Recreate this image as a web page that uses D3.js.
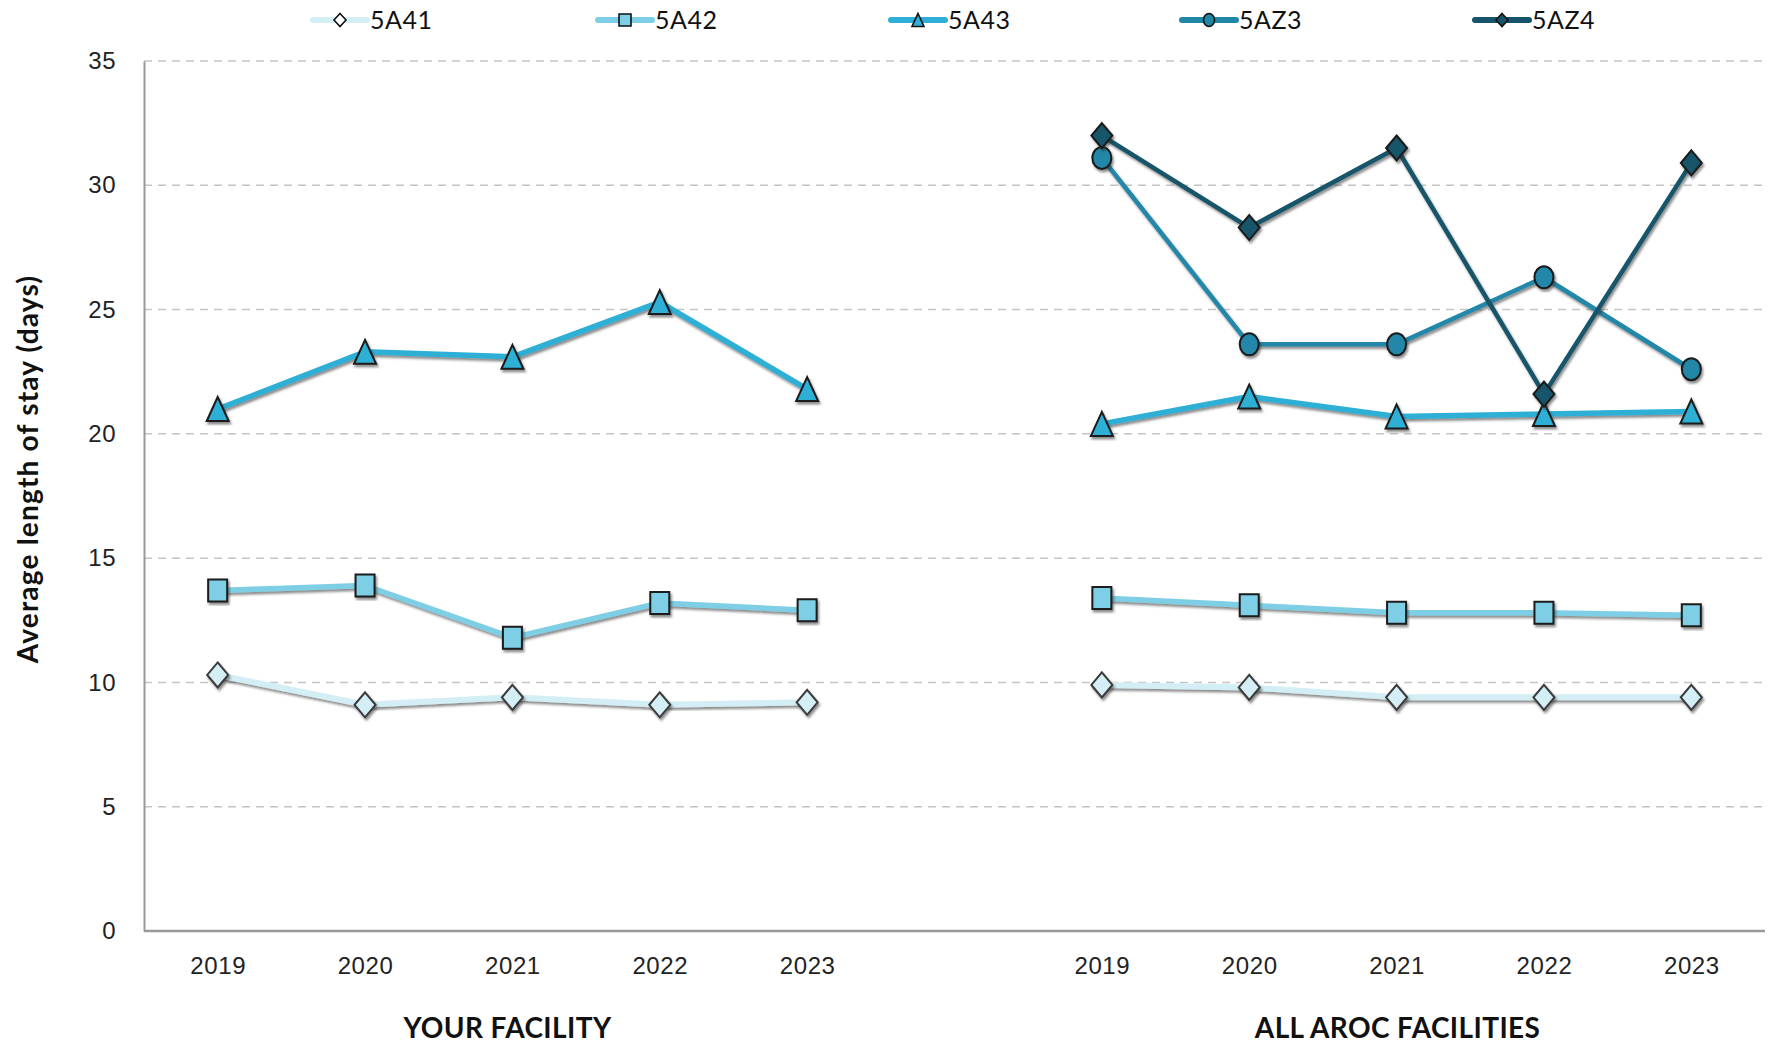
<!DOCTYPE html>
<html>
<head>
<meta charset="utf-8">
<script src="https://cdn.jsdelivr.net/npm/d3@7"></script>
<style>
  html, body { margin: 0; padding: 0; background: #fff; }
  svg { display: block; font-family: Lato, "Noto Sans", sans-serif; }
</style>
</head>
<body>
<svg id="chart" width="1768" height="1045"></svg>
<script>
// ---- data ----
const categories = ["2019", "2020", "2021", "2022", "2023", "", "2019", "2020", "2021", "2022", "2023"];
const groups = ["YOUR FACILITY", "ALL AROC FACILITIES"];
const groupCenters = [2, 8]; // category index under which group label sits
const seriesNames = ["5A41", "5A42", "5A43", "5AZ3", "5AZ4"];
const s5A41 = [10.3, 9.1, 9.4, 9.1, 9.2, null, 9.9, 9.8, 9.4, 9.4, 9.4];
const s5A42 = [13.7, 13.9, 11.8, 13.2, 12.9, null, 13.4, 13.1, 12.8, 12.8, 12.7];
const s5A43 = [21.0, 23.3, 23.1, 25.3, 21.8, null, 20.4, 21.5, 20.7, 20.8, 20.9];
const s5AZ3 = [null, null, null, null, null, null, 31.1, 23.6, 23.6, 26.3, 22.6];
const s5AZ4 = [null, null, null, null, null, null, 32.0, 28.3, 31.5, 21.6, 30.9];
const yTicks = [0, 5, 10, 15, 20, 25, 30, 35];

(function () {
// ---- styles ----
const seriesValues = [s5A41, s5A42, s5A43, s5AZ3, s5AZ4];
const colors = ["#d4eef5", "#7ecfe6", "#2fafd6", "#2087a8", "#15546a"];
const shapes = ["diamond", "square", "triangle", "circle", "diamond"];
const lineWidths = [6, 5.5, 5.5, 4.5, 4.5];
const markerStroke = ["#3a3a3a", "#1a1a1a", "#1a1a1a", "#1a1a1a", "#1a1a1a"];

const svg = d3.select("#chart");
const mLeft = 144, mRight = 1765, mTop = 61, mBottom = 931;

const defs = svg.append("defs");
const f = defs.append("filter").attr("id", "shadow").attr("x", "-20%").attr("y", "-20%").attr("width", "140%").attr("height", "140%");
f.append("feDropShadow").attr("dx", 1.5).attr("dy", 2.5).attr("stdDeviation", 1.2)
  .attr("flood-color", "#333").attr("flood-opacity", 0.55);

const x = d3.scalePoint().domain(d3.range(categories.length)).range([mLeft, mRight]).padding(0.5);
const y = d3.scaleLinear().domain([0, 35]).range([mBottom, mTop]);

// gridlines
svg.append("g").selectAll("line").data(yTicks.filter(t => t > 0)).join("line")
  .attr("x1", mLeft).attr("x2", mRight)
  .attr("y1", d => y(d)).attr("y2", d => y(d))
  .attr("stroke", "#c4c4c4").attr("stroke-width", 1.5).attr("stroke-dasharray", "8,6");

// y axis
const yAxis = svg.append("g").attr("transform", `translate(${mLeft},0)`)
  .call(d3.axisLeft(y).tickValues(yTicks).tickSize(0).tickPadding(28));
yAxis.select(".domain").attr("stroke", "#999").attr("stroke-width", 2);
yAxis.selectAll("text").attr("font-size", 24).attr("fill", "#222").attr("letter-spacing", 0.5);

// x axis
const xAxis = svg.append("g").attr("transform", `translate(0,${mBottom})`)
  .call(d3.axisBottom(x).tickSize(0).tickPadding(26).tickFormat(i => categories[i]));
xAxis.select(".domain").attr("stroke", "#999").attr("stroke-width", 2.5).attr("d", `M${mLeft},0H${mRight}`);
xAxis.selectAll("text").attr("font-size", 24).attr("fill", "#222").attr("letter-spacing", 0.6);

// group labels
const groupOffsets = [-5, 1];
svg.append("g").selectAll("text").data(groups).join("text")
  .attr("x", (d, i) => x(groupCenters[i]) + groupOffsets[i])
  .attr("y", 1038)
  .attr("text-anchor", "middle")
  .attr("font-size", 28).attr("font-weight", "bold").attr("fill", "#111")
  .attr("letter-spacing", 0.4)
  .text(d => d);

// y axis title
svg.append("text")
  .attr("transform", `translate(38,469) rotate(-90)`)
  .attr("text-anchor", "middle")
  .attr("font-size", 28).attr("font-weight", "bold").attr("fill", "#111")
  .attr("letter-spacing", 1.2)
  .text("Average length of stay (days)");

function markerPath(shape, w, h) {
  const a = w / 2, b = h / 2;
  if (shape === "diamond") return `M0,${-b}L${a},0L0,${b}L${-a},0Z`;
  if (shape === "square") return `M${-a},${-b}H${a}V${b}H${-a}Z`;
  if (shape === "triangle") return `M0,${-b}L${a},${b}H${-a}Z`;
  return `M${-a},0A${a},${b} 0 1,0 ${a},0A${a},${b} 0 1,0 ${-a},0Z`;
}
const markerSize = {
  diamond: [21, 25], square: [19, 22], triangle: [22, 24], circle: [19, 22]
};

const line = d3.line().defined(d => d.v != null).x(d => x(d.i)).y(d => y(d.v));

seriesValues.forEach((vals, k) => {
  const data = vals.map((v, i) => ({ i, v }));
  const g = svg.append("g");
  g.append("path").datum(data)
    .attr("d", line)
    .attr("fill", "none").attr("stroke", colors[k]).attr("stroke-width", lineWidths[k])
    .attr("stroke-linejoin", "round").attr("filter", "url(#shadow)");
  const [w, h] = markerSize[shapes[k]];
  g.selectAll("path.m").data(data.filter(d => d.v != null)).join("path")
    .attr("class", "m")
    .attr("transform", d => `translate(${x(d.i)},${y(d.v)})`)
    .attr("d", markerPath(shapes[k], w, h))
    .attr("fill", colors[k]).attr("stroke", markerStroke[k]).attr("stroke-width", 2)
    .attr("filter", "url(#shadow)");
});

// legend
const legendX = [313, 598, 891, 1182, 1475];
const legendY = 20;
const lg = svg.append("g").selectAll("g").data(seriesNames).join("g")
  .attr("transform", (d, i) => `translate(${legendX[i]},${legendY})`);
lg.append("line").attr("x1", 0).attr("x2", 54).attr("y1", 0).attr("y2", 0)
  .attr("stroke", (d, i) => colors[i]).attr("stroke-width", 6).attr("stroke-linecap", "round");
lg.append("path")
  .attr("transform", "translate(27,0)")
  .attr("d", (d, i) => markerPath(shapes[i], shapes[i] === "circle" ? 11 : 12, shapes[i] === "square" ? 12 : 13))
  .attr("fill", (d, i) => i === 0 ? "#fff" : colors[i])
  .attr("stroke", "#111").attr("stroke-width", 1.6);
lg.append("text").attr("x", 57).attr("y", 9)
  .attr("font-size", 25).attr("fill", "#111").attr("letter-spacing", 0.5)
  .text(d => d);
})();
</script>
</body>
</html>
